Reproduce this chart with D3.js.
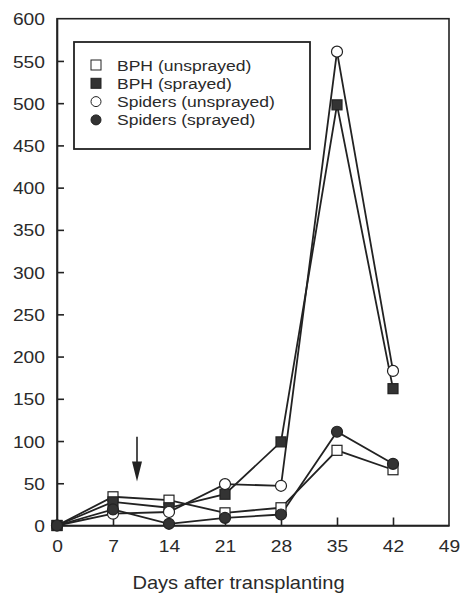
<!DOCTYPE html>
<html>
<head>
<meta charset="utf-8">
<script src="https://cdn.jsdelivr.net/npm/d3@7"></script>
<style>
  body { margin: 0; background: #fff; }
  svg text { font-family: 'Liberation Sans', Arial, sans-serif; fill: #2a2a2a; }
</style>
</head>
<body>
<div id="chart"></div>
<script>
const days = [0, 7, 14, 21, 28, 35, 42]
const bphUnsprayed = [0, 34, 30, 15, 21, 89, 66]
const bphSprayed = [0, 28, 21, 37, 99, 498, 162]
const spidersUnsprayed = [0, 14, 16, 49, 47, 561, 183]
const spidersSprayed = [0, 19, 2, 9, 13, 111, 73]
const seriesNames = ['BPH (unsprayed)', 'BPH (sprayed)', 'Spiders (unsprayed)', 'Spiders (sprayed)']
const xTicks = [0, 7, 14, 21, 28, 35, 42, 49]
const yTicks = [0, 50, 100, 150, 200, 250, 300, 350, 400, 450, 500, 550, 600]
const sprayDay = 10
const arrowFrom = 105
const arrowTo = 52

const W = 462
const H = 593
const ink = '#222'
// the scanned figure is a bit wider than tall, so stretch the text to match
const STRETCH = 1.13

const series = [
	{ name: seriesNames[0], values: bphUnsprayed, shape: 'square', filled: false },
	{ name: seriesNames[1], values: bphSprayed, shape: 'square', filled: true },
	{ name: seriesNames[2], values: spidersUnsprayed, shape: 'circle', filled: false },
	{ name: seriesNames[3], values: spidersSprayed, shape: 'circle', filled: true },
]

function stretch(sel) {
	sel.each(function() {
		const w = this.getComputedTextLength()
		d3.select(this)
			.attr('textLength', w * STRETCH)
			.attr('lengthAdjust', 'spacingAndGlyphs')
	})
}

const svg = d3.select('#chart').append('svg')
	.attr('width', W)
	.attr('height', H)

const x = d3.scaleLinear().domain([0, 49]).range([57, 449])
const y = d3.scaleLinear().domain([0, 600]).range([525.5, 18.7])

// frame
svg.append('rect')
	.attr('x', x(0)).attr('y', y(600))
	.attr('width', x(49) - x(0)).attr('height', y(0) - y(600))
	.attr('fill', 'none').attr('stroke', ink).attr('stroke-width', 1.6)

// axes with inward ticks
const xAxis = svg.append('g')
	.attr('transform', `translate(0,${y(0)})`)
	.call(d3.axisBottom(x).tickValues(xTicks).tickSizeInner(-8).tickSizeOuter(0).tickPadding(14.5))
const yAxis = svg.append('g')
	.attr('transform', `translate(${x(0)},0)`)
	.call(d3.axisLeft(y).tickValues(yTicks).tickSizeInner(-7).tickSizeOuter(0).tickPadding(12))

;[xAxis, yAxis].forEach(g => {
	g.select('.domain').attr('stroke', ink).attr('stroke-width', 1.6)
	g.selectAll('.tick line').attr('stroke', ink).attr('stroke-width', 1.6)
	g.selectAll('.tick text').style('font-size', '17px').attr('fill', '#2a2a2a')
		.style('font-family', "'Liberation Sans', Arial, sans-serif")
	stretch(g.selectAll('.tick text'))
})
xAxis.selectAll('.tick line').filter(d => d === 0 || d === 49).remove()
yAxis.selectAll('.tick line').filter(d => d === 0 || d === 600).remove()
yAxis.selectAll('.tick text').attr('dy', '0.36em')

// axis title
svg.append('text')
	.attr('x', 238.5).attr('y', 589)
	.attr('text-anchor', 'middle')
	.style('font-size', '17.8px')
	.text('Days after transplanting')
	.call(stretch)

// spray arrow
const ax = x(sprayDay)
const tipY = y(arrowTo)
svg.append('line')
	.attr('x1', ax).attr('x2', ax)
	.attr('y1', y(arrowFrom)).attr('y2', tipY - 14)
	.attr('stroke', ink).attr('stroke-width', 1.6)
svg.append('path')
	.attr('d', `M${ax - 5},${tipY - 20} L${ax + 5},${tipY - 20} L${ax},${tipY} Z`)
	.attr('fill', ink)

// lines
const line = d3.line()
	.x((d, i) => x(days[i]))
	.y(d => y(d))

svg.selectAll('.series-line').data(series).enter()
	.append('path')
	.attr('class', 'series-line')
	.attr('d', d => line(d.values))
	.attr('fill', 'none')
	.attr('stroke', ink)
	.attr('stroke-width', 1.8)

function drawMarker(g, s, cx, cy) {
	if (s.shape === 'square') {
		g.append('rect')
			.attr('x', cx - 5).attr('y', cy - 5)
			.attr('width', 10).attr('height', 10)
			.attr('fill', s.filled ? '#333' : '#fff')
			.attr('stroke', ink).attr('stroke-width', 1.2)
	} else {
		g.append('circle')
			.attr('cx', cx).attr('cy', cy).attr('r', 5.5)
			.attr('fill', s.filled ? '#333' : '#fff')
			.attr('stroke', ink).attr('stroke-width', 1.2)
	}
}

// markers
series.forEach(s => {
	const g = svg.append('g')
	s.values.forEach((v, i) => drawMarker(g, s, x(days[i]), y(v)))
})

// legend
const legend = svg.append('g')
legend.append('rect')
	.attr('x', 74).attr('y', 42)
	.attr('width', 236).attr('height', 107)
	.attr('fill', '#fff').attr('stroke', ink).attr('stroke-width', 1.8)

series.forEach((s, i) => {
	const ry = 65 + i * 18.3
	const mg = legend.append('g')
	if (s.shape === 'square') {
		mg.append('rect')
			.attr('x', 91).attr('y', ry - 5).attr('width', 10).attr('height', 10)
			.attr('fill', s.filled ? '#333' : '#fff').attr('stroke', ink).attr('stroke-width', 1)
	} else {
		mg.append('circle')
			.attr('cx', 96).attr('cy', ry).attr('r', 5)
			.attr('fill', s.filled ? '#333' : '#fff').attr('stroke', ink).attr('stroke-width', 1)
	}
	legend.append('text')
		.attr('x', 117).attr('y', ry)
		.attr('dy', '0.36em')
		.style('font-size', '15.5px')
		.text(s.name)
		.call(stretch)
})
</script>
</body>
</html>
